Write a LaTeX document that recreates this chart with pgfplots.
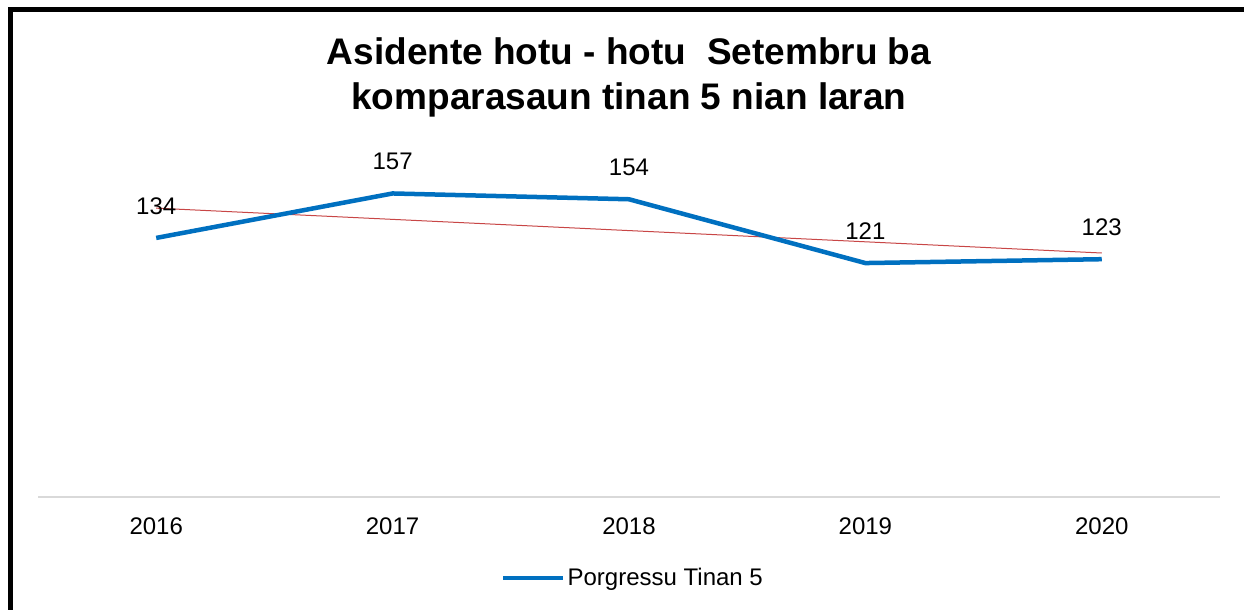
\documentclass[border=0pt]{standalone}
\usepackage{pgfplots}
\pgfplotsset{compat=1.18}
\usepackage{fontspec}
\setmainfont{Liberation Sans}
\definecolor{lineblue}{RGB}{0,112,192}
\definecolor{trendred}{RGB}{200,70,70}
\definecolor{axisgray}{RGB}{217,217,217}
\begin{document}
\begin{tikzpicture}
\useasboundingbox (0,0) rectangle (1244bp,610bp);
\fill[white] (0,0) rectangle (1244bp,610bp);
\begin{axis}[
  at={(38bp,113bp)}, anchor=south west,
  scale only axis, width=1182bp, height=348bp,
  xmin=-0.5, xmax=4.5, ymin=0, ymax=180,
  axis x line=bottom, axis y line=none,
  x axis line style={draw=axisgray, line width=1.5bp, -},
  xtick={0,1,2,3,4},
  xticklabels={2016,2017,2018,2019,2020},
  major tick length=0pt,
  xticklabel style={font=\fontsize{24bp}{28bp}\selectfont, yshift=-17bp},
  /pgf/number format/assume math mode=true,
  clip=false,
  legend style={at={(rel axis cs:0.5,0)}, anchor=center, yshift=-81bp, xshift=4bp, draw=none, fill=none,
    font=\fontsize{24bp}{28bp}\selectfont, inner sep=0pt},
  legend image code/.code={\path (0bp,0bp) -- (60bp,0bp);\draw[line width=4bp, line cap=round] (2bp,0bp) -- (56bp,0bp);},
]
\addplot[trendred, line width=1bp, forget plot] coordinates {(0,149.4) (4,126.2)};
\addplot[lineblue, line width=4.5bp, line join=round,
  nodes near coords,
  every node near coord/.append style={font=\fontsize{24bp}{28bp}\selectfont, text=black, anchor=south, inner sep=0pt, yshift=21bp}]
  coordinates {(0,134) (1,157) (2,154) (3,121) (4,123)};
\addlegendentry{Porgressu Tinan 5}
\end{axis}
\node[anchor=base, font=\bfseries\fontsize{37bp}{45bp}\selectfont] at (629bp,545bp) {Asidente hotu - hotu\ \ Setembru ba};
\node[anchor=base, font=\bfseries\fontsize{37bp}{45bp}\selectfont] at (629bp,500bp) {komparasaun tinan 5 nian laran};
\draw[line width=5bp] (10bp,0bp) -- (10bp,600bp) -- (1244bp,600bp);
\end{tikzpicture}
\end{document}
